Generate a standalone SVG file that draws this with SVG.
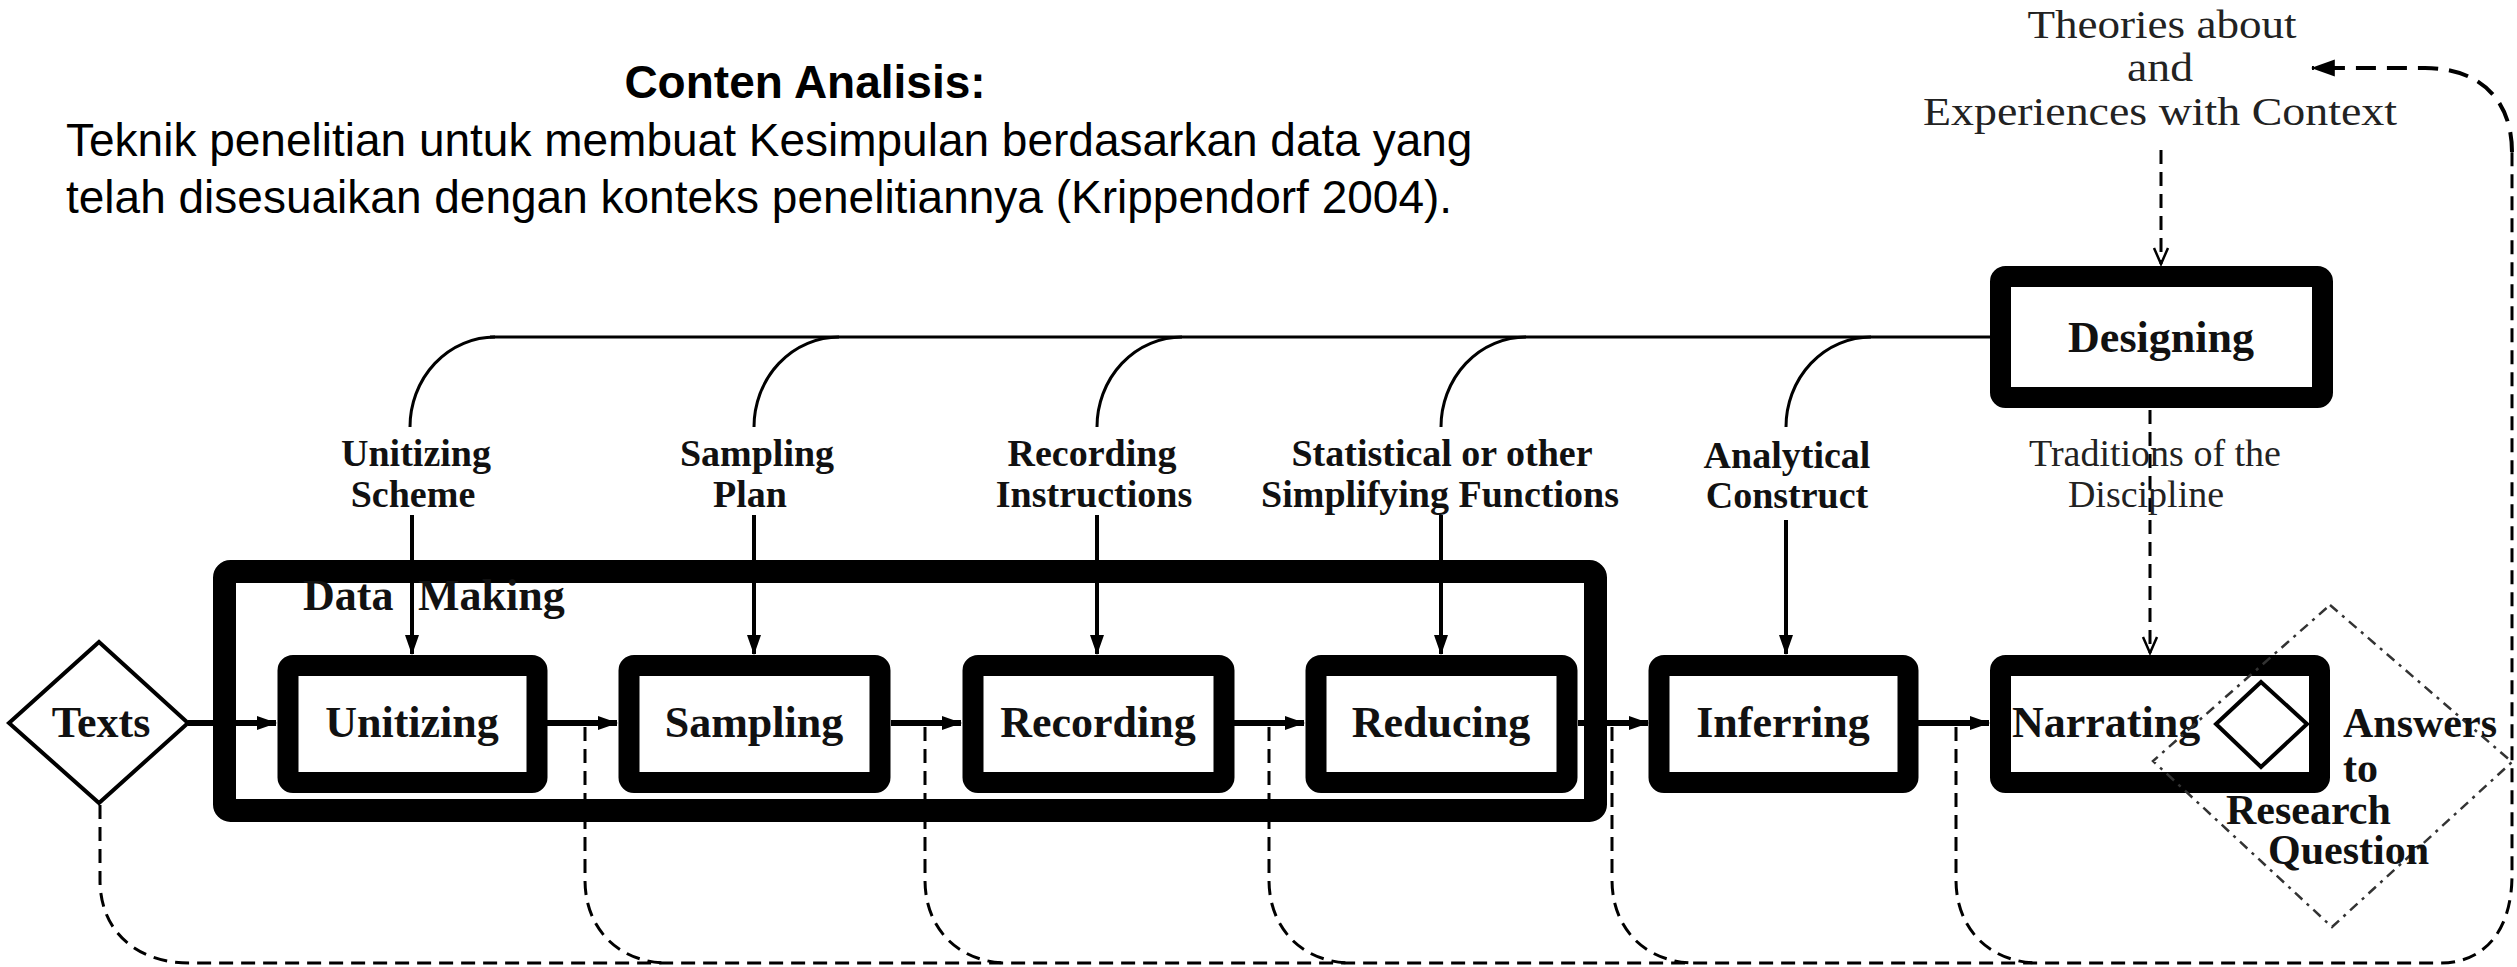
<svg xmlns="http://www.w3.org/2000/svg" width="2517" height="967" viewBox="0 0 2517 967">
<defs>
<marker id="ah" viewBox="0 0 20 20" refX="19" refY="10" markerWidth="20" markerHeight="20" markerUnits="userSpaceOnUse" orient="auto"><path d="M0,3 L20,10 L0,17 z" fill="#000"/></marker>
<marker id="ahb" viewBox="0 0 20 20" refX="19" refY="10" markerWidth="24" markerHeight="24" markerUnits="userSpaceOnUse" orient="auto"><path d="M0,3 L20,10 L0,17 z" fill="#000"/></marker>
<marker id="ahv" viewBox="0 0 20 20" refX="18" refY="10" markerWidth="20" markerHeight="20" markerUnits="userSpaceOnUse" orient="auto"><path d="M2,3 L18,10 L2,17" fill="none" stroke="#000" stroke-width="2.5"/></marker>
</defs>
<style>
.box{fill:#fff;stroke:#000;stroke-width:21}
.frame{fill:none;stroke:#000;stroke-width:23}
.lbl{font-family:"Liberation Serif","Times New Roman",serif;font-weight:bold;font-size:44px;fill:#111}
.ans{font-family:"Liberation Serif","Times New Roman",serif;font-weight:bold;font-size:42px;fill:#111}
.mid{text-anchor:middle}
.sub{font-family:"Liberation Serif","Times New Roman",serif;font-weight:bold;font-size:38px;fill:#111;text-anchor:middle}
.reg{font-family:"Liberation Serif","Times New Roman",serif;font-size:38px;fill:#222;text-anchor:middle}
.theo{font-family:"Liberation Serif","Times New Roman",serif;font-size:39px;fill:#222;text-anchor:middle}
.sans{font-family:"Liberation Sans",Arial,sans-serif;font-size:46px;fill:#000}
.solid{stroke:#000;stroke-width:4;fill:none}
.flow{stroke:#000;stroke-width:6;fill:none}
.thin{stroke:#000;stroke-width:3;fill:none}
.dash{stroke:#000;stroke-width:3;fill:none;stroke-dasharray:14 8}
.dashb{stroke:#000;stroke-width:4;fill:none;stroke-dasharray:20 11}
.dot{stroke:#333;stroke-width:2.5;fill:none;stroke-dasharray:10 6 3 6}
</style>
<rect width="2517" height="967" fill="#fff"/>

<g id="title">
<text class="sans mid" x="805" y="98" font-weight="bold">Conten Analisis:</text>
<text class="sans" x="66" y="156">Teknik penelitian untuk membuat Kesimpulan berdasarkan data yang</text>
<text class="sans" x="66" y="213">telah disesuaikan dengan konteks penelitiannya (Krippendorf 2004).</text>
</g>

<g id="theories">
<text class="theo" x="2162" y="38" textLength="269" lengthAdjust="spacingAndGlyphs">Theories about</text>
<text class="theo" x="2160" y="81" textLength="66" lengthAdjust="spacingAndGlyphs">and</text>
<text class="theo" x="2160" y="125" textLength="474" lengthAdjust="spacingAndGlyphs">Experiences with Context</text>
</g>

<g id="data-making">
<rect class="frame" x="224.5" y="571.5" width="1371" height="239" rx="6"/>
<text class="lbl" x="303" y="610">Data</text>
<text class="lbl" x="418" y="610">Making</text>
</g>

<g id="connectors">
<path class="thin" d="M490,337 H1992"/>
<path class="thin" d="M410,427 A85 90 0 0 1 495,337"/>
<path class="thin" d="M754,427 A85 90 0 0 1 839,337"/>
<path class="thin" d="M1097,427 A85 90 0 0 1 1182,337"/>
<path class="thin" d="M1441,427 A85 90 0 0 1 1526,337"/>
<path class="thin" d="M1786,427 A85 90 0 0 1 1871,337"/>
<path class="solid" d="M412,515 V654" marker-end="url(#ah)"/>
<path class="solid" d="M754,515 V654" marker-end="url(#ah)"/>
<path class="solid" d="M1097,515 V654" marker-end="url(#ah)"/>
<path class="solid" d="M1441,515 V654" marker-end="url(#ah)"/>
<path class="solid" d="M1786,520 V654" marker-end="url(#ah)"/>
<path class="flow" d="M188,723 H276" marker-end="url(#ah)"/>
<path class="flow" d="M547,723 H617" marker-end="url(#ah)"/>
<path class="flow" d="M891,723 H961" marker-end="url(#ah)"/>
<path class="flow" d="M1234,723 H1304" marker-end="url(#ah)"/>
<path class="flow" d="M1578,723 H1648" marker-end="url(#ah)"/>
<path class="flow" d="M1918,723 H1989" marker-end="url(#ah)"/>
<path class="dash" d="M2161,150 V264" marker-end="url(#ahv)"/>
<path class="dash" d="M2150,410 V653" marker-end="url(#ahv)"/>
<path class="dash" d="M100,805 V880 C100,930 135,963 190,963 H2440 C2485,963 2512,930 2512,875 V150"/>
<path class="dashb" d="M2512,152 C2512,100 2480,68 2425,68 H2312" marker-end="url(#ahb)"/>
<path class="dash" d="M585,727 V880 C585,930 620,963 668,963"/>
<path class="dash" d="M925,727 V880 C925,930 960,963 1008,963"/>
<path class="dash" d="M1269,727 V880 C1269,930 1304,963 1352,963"/>
<path class="dash" d="M1612,727 V880 C1612,930 1647,963 1695,963"/>
<path class="dash" d="M1956,727 V880 C1956,930 1991,963 2039,963"/>
</g>

<g id="texts">
<polygon points="99,642 188,723 99,803 9,723" fill="#fff" stroke="#000" stroke-width="4"/>
<text class="lbl mid" x="101" y="737">Texts</text>
</g>

<g id="labels">
<text class="sub" x="416" y="466">Unitizing</text>
<text class="sub" x="413" y="507">Scheme</text>
<text class="sub" x="757" y="466">Sampling</text>
<text class="sub" x="750" y="507">Plan</text>
<text class="sub" x="1092" y="466">Recording</text>
<text class="sub" x="1094" y="507">Instructions</text>
<text class="sub" x="1442" y="466">Statistical or other</text>
<text class="sub" x="1440" y="507">Simplifying Functions</text>
<text class="sub" x="1787" y="468">Analytical</text>
<text class="sub" x="1787" y="508">Construct</text>
<text class="reg" x="2155" y="466">Traditions of the</text>
<text class="reg" x="2146" y="507">Discipline</text>
</g>

<g id="unitizing">
<rect class="box" x="288" y="665.5" width="249" height="117" rx="5"/>
<text class="lbl mid" x="412" y="737">Unitizing</text>
</g>
<g id="sampling">
<rect class="box" x="629" y="665.5" width="251" height="117" rx="5"/>
<text class="lbl mid" x="754" y="737">Sampling</text>
</g>
<g id="recording">
<rect class="box" x="973" y="665.5" width="251" height="117" rx="5"/>
<text class="lbl mid" x="1098" y="737">Recording</text>
</g>
<g id="reducing">
<rect class="box" x="1316" y="665.5" width="251" height="117" rx="5"/>
<text class="lbl mid" x="1441" y="737">Reducing</text>
</g>
<g id="inferring">
<rect class="box" x="1659" y="665.5" width="249" height="117" rx="5"/>
<text class="lbl mid" x="1783" y="737">Inferring</text>
</g>
<g id="narrating">
<rect class="box" x="2000.5" y="665.5" width="319" height="117" rx="5"/>
<text class="lbl" x="2012" y="737">Narrating</text>
<polygon points="2261,682 2307,724 2261,767 2216,724" fill="#fff" stroke="#000" stroke-width="4"/>
</g>
<g id="designing">
<rect class="box" x="2000.5" y="276.5" width="322" height="121" rx="5"/>
<text class="lbl mid" x="2161" y="352">Designing</text>
</g>

<g id="answers">
<polygon class="dot" points="2330,605 2512,762 2332,927 2153,761"/>
<text class="ans" x="2343" y="737">Answers</text>
<text class="ans" x="2343" y="782">to</text>
<text class="ans" x="2226" y="824">Research</text>
<text class="ans" x="2268" y="864">Question</text>
</g>
</svg>
